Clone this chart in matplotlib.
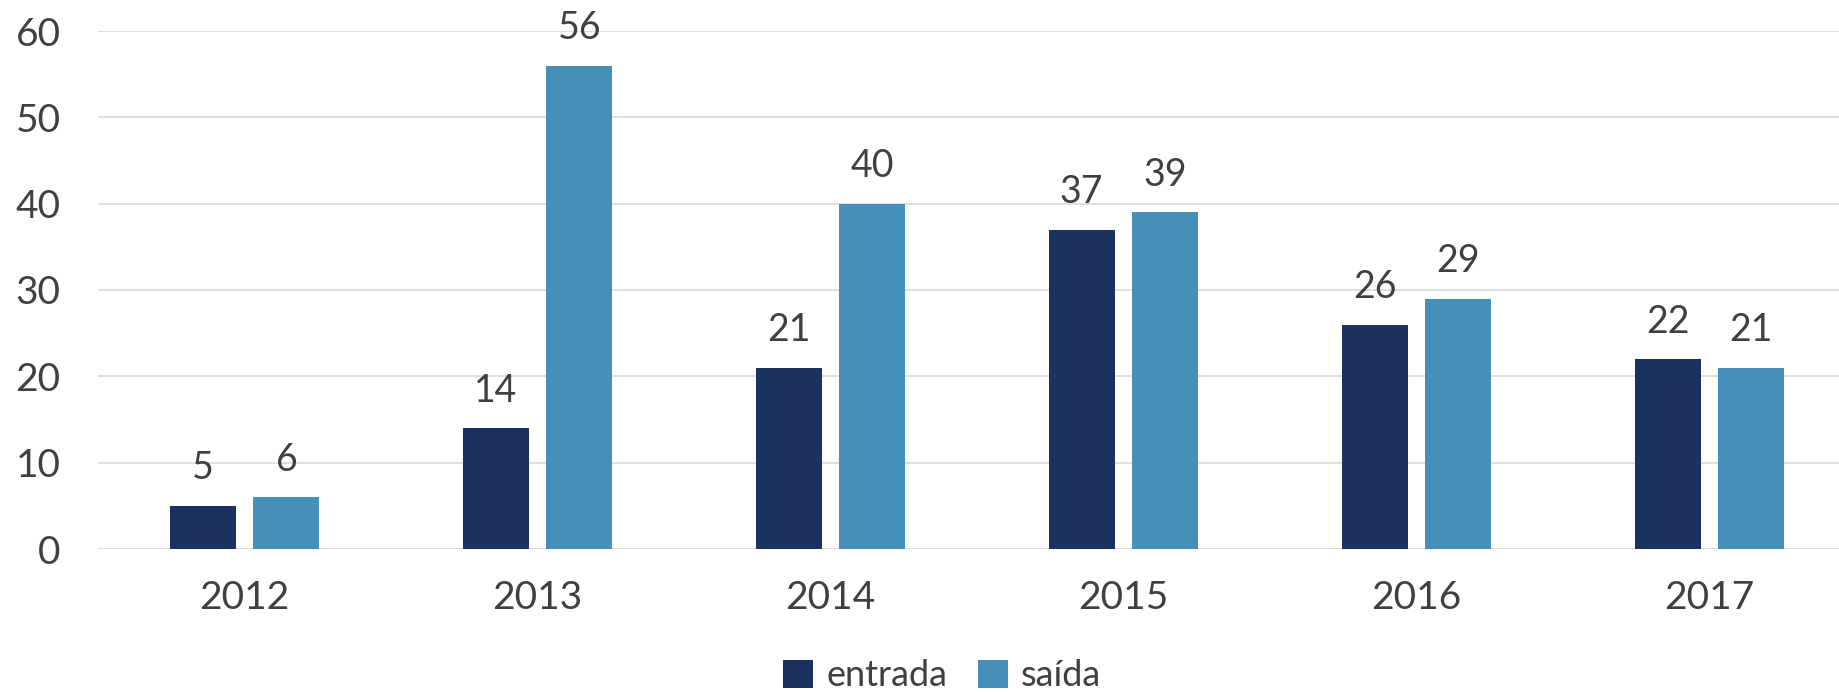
import matplotlib
matplotlib.use("Agg")
import matplotlib.pyplot as plt
import numpy as np

years = ["2012", "2013", "2014", "2015", "2016", "2017"]
entrada = [5, 14, 21, 37, 26, 22]
saida = [6, 56, 40, 39, 29, 21]
series_names = ["entrada", "saída"]
colors = ["#1B3260", "#458FB8"]
yticks = [0, 10, 20, 30, 40, 50, 60]

plt.rcParams['font.family'] = ['Lato', 'DejaVu Sans']
txt = "#404040"

W, H = 1839, 692
fig = plt.figure(figsize=(W / 100, H / 100), dpi=100)
left, right = 98, 1856
bottom, top = 549, 31
ax = fig.add_axes([left / W, (H - bottom) / H, (right - left) / W, (bottom - top) / H])

x = np.arange(len(years))
bw = 0.225
off = 0.143
b1 = ax.bar(x - off, entrada, bw, color=colors[0], label=series_names[0], zorder=3)
b2 = ax.bar(x + off, saida, bw, color=colors[1], label=series_names[1], zorder=3)

for bars, vals in ((b1, entrada), (b2, saida)):
    for r, v in zip(bars, vals):
        ax.annotate(str(v), (r.get_x() + r.get_width() / 2, v), xytext=(0, 14),
                    textcoords="offset points", ha="center", va="bottom",
                    fontsize=27, color=txt, annotation_clip=False, clip_on=False)

ax.set_xlim(-0.5, len(years) - 0.5)
ax.set_ylim(0, 60)
ax.set_yticks(yticks)
ax.set_yticklabels([str(t) for t in yticks])
ax.set_xticks(x)
ax.set_xticklabels(years)
ax.tick_params(axis="y", length=0, pad=27, labelsize=28, labelcolor=txt)
ax.tick_params(axis="x", length=0, pad=22, labelsize=28, labelcolor=txt)
ax.grid(axis="y", color="#D9D9D9", linewidth=1.2, zorder=0)
for s in ax.spines.values():
    s.set_visible(False)

leg = fig.legend(handles=[b1, b2], labels=series_names, loc="center",
                 bbox_to_anchor=(942 / W, (H - 676) / H), ncol=2, frameon=False,
                 fontsize=26, handlelength=0.85, handleheight=0.85,
                 handletextpad=0.35, columnspacing=0.85, labelcolor=txt)

fig.savefig("out.png", dpi=100)
